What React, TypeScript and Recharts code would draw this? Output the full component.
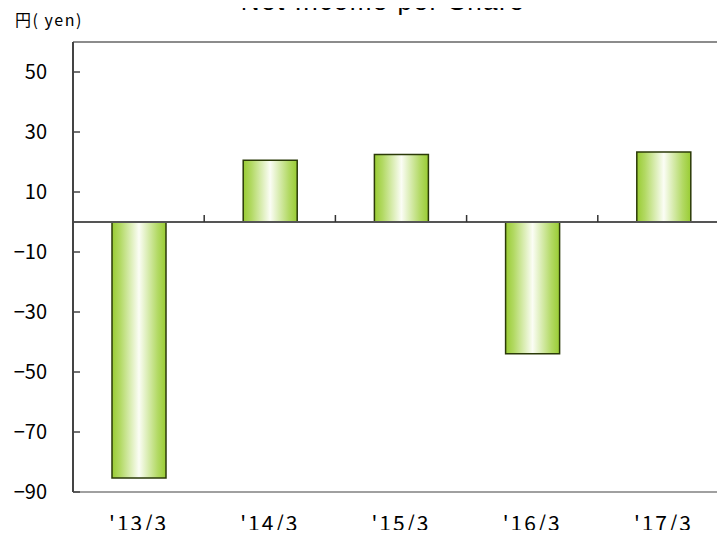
import React from 'react';
import {
  BarChart,
  Bar,
  XAxis,
  YAxis,
  ReferenceLine,
} from 'recharts';

const categories = ["'13/3", "'14/3", "'15/3", "'16/3", "'17/3"];
const netIncomePerShare = [-85.3, 20.6, 22.5, -43.9, 23.3];
const yTicks = [-90, -70, -50, -30, -10, 10, 30, 50];

const data = categories.map((period, i) => ({
  period,
  value: netIncomePerShare[i],
}));

const labelFont = '"Noto Sans CJK JP", "Liberation Sans", sans-serif';

// left axis ticks point inward, so draw the label and the tick ourselves
const YTick = (props: any) => {
  const { x, y, payload } = props;
  const text = String(payload.value).replace('-', '\u2212');
  return (
    <g>
      <text
        x={x}
        y={y}
        dy="0.36em"
        textAnchor="end"
        fill="#000"
        fontSize={20}
        fontFamily={labelFont}
      >
        {text}
      </text>
      <line x1={x + 26} x2={x + 33} y1={y} y2={y} stroke="#444" strokeWidth={1.5} />
    </g>
  );
};

const XTick = (props: any) => {
  const { x, y, payload } = props;
  return (
    <text
      x={x}
      y={y}
      textAnchor="middle"
      fill="#000"
      fontSize={21}
      letterSpacing={2}
      fontFamily={labelFont}
    >
      {payload.value}
    </text>
  );
};

// zero line with small upward ticks between the categories
const ZeroLine = (props: any) => {
  const { x1, x2, y1 } = props;
  const step = (x2 - x1) / categories.length;
  const ticks = categories.slice(1).map((_, i) => x1 + step * (i + 1));
  return (
    <g>
      <line x1={x1} x2={x2} y1={y1} y2={y1} stroke="#555" strokeWidth={2} />
      {ticks.map((tx) => (
        <line key={tx} x1={tx} x2={tx} y1={y1} y2={y1 - 7} stroke="#333" strokeWidth={1.5} />
      ))}
    </g>
  );
};

export default function App() {
  return (
    <div
      style={{
        margin: -8,
        width: 725,
        height: 538,
        overflow: 'hidden',
        position: 'relative',
        background: '#fff',
      }}
    >
      <BarChart
        width={730}
        height={538}
        data={data}
        margin={{ top: 42, right: 1, bottom: 0, left: 0 }}
      >
        <defs>
          <linearGradient id="barFill" x1="0" y1="0" x2="1" y2="0">
            <stop offset="0%" stopColor="#99cc33" />
            <stop offset="15%" stopColor="#b2d963" />
            <stop offset="50%" stopColor="#fbfdf5" />
            <stop offset="85%" stopColor="#b2d963" />
            <stop offset="100%" stopColor="#99cc33" />
          </linearGradient>
        </defs>
        <XAxis
          dataKey="period"
          height={46}
          axisLine={{ stroke: '#a0a0a0', strokeWidth: 2 }}
          tickLine={false}
          tickSize={0}
          tickMargin={39}
          tick={<XTick />}
        />
        <YAxis
          width={73}
          domain={[-90, 60]}
          ticks={yTicks}
          allowDataOverflow
          axisLine={{ stroke: '#444', strokeWidth: 2 }}
          tickLine={false}
          tickSize={0}
          tickMargin={26}
          tick={<YTick />}
        />
        <ReferenceLine y={60} stroke="#8c8c8c" strokeWidth={2} />
        <Bar
          dataKey="value"
          barSize={54}
          fill="url(#barFill)"
          stroke="#2b3a08"
          strokeWidth={1.5}
          isAnimationActive={false}
        />
        <ReferenceLine y={0} shape={<ZeroLine />} />
      </BarChart>
      <svg
        width={725}
        height={538}
        style={{ position: 'absolute', left: 0, top: 0, pointerEvents: 'none' }}
      >
        <text
          x={383}
          y={10}
          textAnchor="middle"
          fontSize={26}
          letterSpacing={1.5}
          fontFamily='"Liberation Sans", Arial, sans-serif'
          fill="#000"
        >
          Net Income per Share
        </text>
        <text
          x={15}
          y={26}
          fontSize={16}
          letterSpacing={1.5}
          fontFamily={labelFont}
          fill="#000"
        >
          円( yen)
        </text>
      </svg>
    </div>
  );
}
